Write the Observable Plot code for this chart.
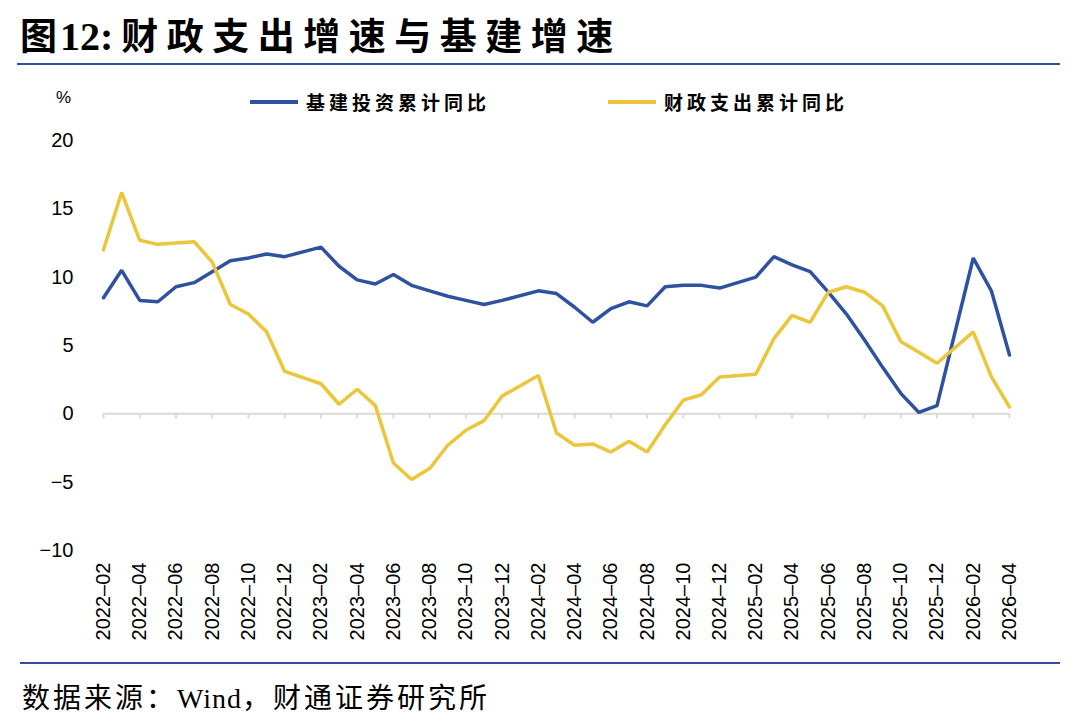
<!DOCTYPE html>
<html>
<head>
<meta charset="utf-8">
<script src="https://cdn.jsdelivr.net/npm/d3@7"></script>
<script src="https://cdn.jsdelivr.net/npm/@observablehq/plot@0.6"></script>
<style>
  html, body { margin: 0; padding: 0; background: #fff; }
  #wrap { position: relative; width: 1076px; height: 718px; background: #fff; overflow: hidden; }
  .cjk { font-family: "Noto Sans CJK SC", sans-serif; }
  #title { position: absolute; left: 20px; top: 10px; font-size: 37px; font-weight: 700; color: #000; white-space: nowrap; line-height: 48px; }
  #title .num { font-family: "Liberation Serif", "Times New Roman", serif; font-weight: 700; font-size: 40px; margin: 0 8px 0 3px; }
  #title .txt { letter-spacing: 8.5px; }
  .rule { position: absolute; height: 2px; background: #2f52a0; }
  #pct { position: absolute; left: 56px; top: 88px; font-family: "Liberation Sans", Arial, sans-serif; font-size: 17px; color: #000; }
  .leg { position: absolute; top: 88px; display: flex; align-items: center; font-size: 19px; font-weight: 700; letter-spacing: 4px; color: #000; white-space: nowrap; }
  .leg .sw { width: 48px; height: 4px; margin-right: 8px; }
  #chart { position: absolute; left: 0; top: 80px; }
  #source { position: absolute; left: 22px; top: 676px; font-size: 28px; color: #000; white-space: nowrap; letter-spacing: 3px; }
  #source .en { font-family: "Liberation Serif", "Times New Roman", serif; letter-spacing: 1px; }
</style>
</head>
<body>
<div id="wrap">
  <div id="title" class="cjk">图<span class="num">12:</span><span class="txt">财政支出增速与基建增速</span></div>
  <div class="rule" style="left:17px; top:63px; width:1043px;"></div>
  <div id="pct">%</div>
  <div id="legend"></div>
  <div id="chart"></div>
  <div class="rule" style="left:20px; top:662px; width:1040px;"></div>
  <div id="source" class="cjk">数据来源：<span class="en">Wind</span>，财通证券研究所</div>
</div>
<script>
// ---- data ----
const months = [
  "2022-02","2022-03","2022-04","2022-05","2022-06","2022-07","2022-08","2022-09","2022-10","2022-11","2022-12",
  "2023-02","2023-03","2023-04","2023-05","2023-06","2023-07","2023-08","2023-09","2023-10","2023-11","2023-12",
  "2024-02","2024-03","2024-04","2024-05","2024-06","2024-07","2024-08","2024-09","2024-10","2024-11","2024-12",
  "2025-02","2025-03","2025-04","2025-05","2025-06","2025-07","2025-08","2025-09","2025-10","2025-11","2025-12",
  "2026-02","2026-03","2026-04"
];
const infraYoY = [
  8.5, 10.5, 8.3, 8.2, 9.3, 9.6, 10.4, 11.2, 11.4, 11.7, 11.5,
  12.2, 10.8, 9.8, 9.5, 10.2, 9.4, 9.0, 8.6, 8.3, 8.0, 8.3,
  9.0, 8.8, 7.8, 6.7, 7.7, 8.2, 7.9, 9.3, 9.4, 9.4, 9.2,
  10.0, 11.5, 10.9, 10.4, 8.9, 7.3, 5.4, 3.4, 1.5, 0.1, 0.6,
  11.4, 9.0, 4.3
];
const fiscalYoY = [
  12.0, 16.2, 12.7, 12.4, 12.5, 12.6, 11.1, 8.0, 7.3, 6.0, 3.1,
  2.2, 0.7, 1.8, 0.6, -3.6, -4.8, -4.0, -2.3, -1.2, -0.5, 1.3,
  2.8, -1.4, -2.3, -2.2, -2.8, -2.0, -2.8, -0.8, 1.0, 1.4, 2.7,
  2.9, 5.5, 7.2, 6.7, 8.9, 9.3, 8.9, 7.9, 5.3, 4.5, 3.7,
  6.0, 2.7, 0.5
];
const seriesNames = ["基建投资累计同比", "财政支出累计同比"];
const seriesColors = ["#2f52a0", "#ebc53a"];
const xTickLabels = [
  "2022-02","2022-04","2022-06","2022-08","2022-10","2022-12",
  "2023-02","2023-04","2023-06","2023-08","2023-10","2023-12",
  "2024-02","2024-04","2024-06","2024-08","2024-10","2024-12",
  "2025-02","2025-04","2025-06","2025-08","2025-10","2025-12",
  "2026-02","2026-04"
];
const yTicks = [-10, -5, 0, 5, 10, 15, 20];

// month string -> month index counted from 2022-02
const idx = s => { const [y, m] = s.split("-").map(Number); return (y - 2022) * 12 + (m - 2); };
const tickIdx = xTickLabels.map(idx);
const labelOf = new Map(xTickLabels.map(s => [idx(s), s.replace("-", "–")]));

const rows = [];
months.forEach((m, i) => {
  rows.push({x: idx(m), v: infraYoY[i], s: seriesNames[0]});
  rows.push({x: idx(m), v: fiscalYoY[i], s: seriesNames[1]});
});

// ---- legend ----
const legend = document.getElementById("legend");
const legendLeft = [250, 608];
seriesNames.forEach((n, i) => {
  const d = document.createElement("div");
  d.className = "leg cjk";
  d.style.left = legendLeft[i] + "px";
  d.innerHTML = `<div class="sw" style="background:${seriesColors[i]}"></div><span>${n}</span>`;
  legend.appendChild(d);
});

// ---- chart ----
const chart = Plot.plot({
  width: 1076,
  height: 580,
  marginLeft: 103,
  marginRight: 67,
  marginTop: 60,
  marginBottom: 110,
  x: {type: "linear", domain: [0, 50]},
  y: {domain: [-10, 20]},
  color: {domain: seriesNames, range: seriesColors},
  style: {fontFamily: "'Liberation Sans', Arial, sans-serif", fontSize: "20px", color: "#000", background: "transparent"},
  marks: [
    Plot.ruleY([0], {stroke: "#d9d9d9", strokeWidth: 2}),
    Plot.ruleX(tickIdx, {x: d => d, y1: 0, y2: 0, insetBottom: -5, stroke: "#d9d9d9", strokeWidth: 2}),
    Plot.axisY({ticks: yTicks, tickSize: 0, tickPadding: 30, label: null, fontSize: 20}),
    Plot.axisX({ticks: tickIdx, tickFormat: d => labelOf.get(d), tickSize: 0, tickRotate: -90, tickPadding: 12, label: null, fontSize: 20}),
    Plot.line(rows.filter(r => r.s === seriesNames[0]), {x: "x", y: "v", stroke: "s", strokeWidth: 3.5, strokeLinejoin: "miter"}),
    Plot.line(rows.filter(r => r.s === seriesNames[1]), {x: "x", y: "v", stroke: "s", strokeWidth: 3.5, strokeLinejoin: "miter"})
  ]
});
document.getElementById("chart").appendChild(chart);
</script>
</body>
</html>
